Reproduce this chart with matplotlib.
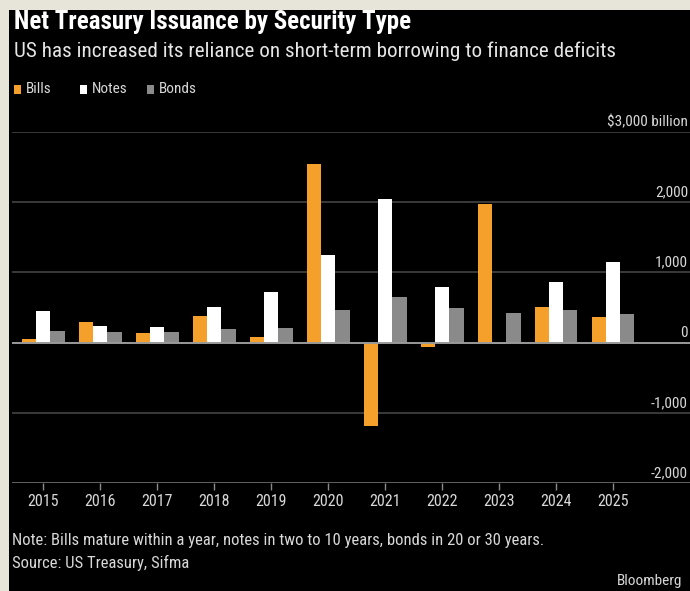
import matplotlib
matplotlib.use("Agg")
import matplotlib.pyplot as plt
import matplotlib.transforms as mtransforms
from matplotlib.patches import Rectangle
import numpy as np

years = [2015, 2016, 2017, 2018, 2019, 2020, 2021, 2022, 2023, 2024, 2025]
bills = [47, 300, 133, 380, 75, 2545, -1195, -60, 1975, 503, 360]
notes = [455, 240, 228, 512, 725, 1250, 2040, 790, -25, 870, 1155]
bonds = [170, 147, 157, 195, 205, 465, 655, 490, 418, 465, 408]

yticks = [-2000, -1000, 0, 1000, 2000, 3000]
ytick_labels = ["-2,000", "-1,000", "0", "1,000", "2,000", "$3,000 billion"]

orange = "#f5a02a"
white = "#ffffff"
grey = "#8a8a8a"
bg = "#000000"
border = "#e7e5d9"

plt.rcParams["font.family"] = ["Roboto Condensed", "Roboto", "DejaVu Sans"]

W, H = 690, 591
fig = plt.figure(figsize=(W / 100, H / 100), dpi=100, facecolor=border)

# black panel inside the beige frame
fig.patches.append(Rectangle((9 / W, 0), 1, 1 - 10 / H, transform=fig.transFigure,
                             facecolor=bg, edgecolor="none", zorder=-5))

ax = fig.add_axes([12 / W, (H - 483) / H, (W - 12) / W, 351 / H])
ax.set_facecolor("none")

x = np.array(years)
w = 0.25
ax.bar(x - w, bills, w, color=orange, zorder=3)
ax.bar(x, notes, w, color=white, zorder=3)
ax.bar(x + w, bonds, w, color=grey, zorder=3)

ax.set_xlim(2014.45, 2026.35)
ax.set_ylim(-2000, 3000)

for v in yticks:
    if v == 0:
        ax.axhline(v, color="#9a9a9a", lw=1.4, zorder=4)
    elif v == -2000:
        ax.axhline(v, color="#6a6a6a", lw=1.3, zorder=2)
    else:
        ax.axhline(v, color="#4a4a4a", lw=1.1, zorder=1)

for s in ax.spines.values():
    s.set_visible(False)

ax.set_yticks(yticks)
ax.set_yticklabels(ytick_labels)
ax.tick_params(axis="y", left=False, labelleft=False, right=False, labelright=True,
               pad=-5, labelsize=11, labelcolor="#d8d8d8")
off = mtransforms.ScaledTranslation(0, 3 / 100, fig.dpi_scale_trans)
for lab in ax.get_yticklabels():
    lab.set_horizontalalignment("right")
    lab.set_verticalalignment("bottom")
    lab.set_transform(lab.get_transform() + off)

ax.set_xticks(years)
ax.set_xticklabels([str(y) for y in years])
ax.tick_params(axis="x", length=5, width=1, color="#8a8a8a", pad=3,
               labelsize=11.5, labelcolor="#d8d8d8")

# titles
fig.text(14 / W, 1 - 22 / H, "Net Treasury Issuance by Security Type", color="white",
         fontsize=18, fontweight="bold", va="center", ha="left")
fig.text(14 / W, 1 - 51 / H,
         "US has increased its reliance on short-term borrowing to finance deficits",
         color="#e6e6e6", fontsize=15.2, va="center", ha="left")

# legend
lx = [14, 80, 147]
names = ["Bills", "Notes", "Bonds"]
cols = [orange, white, grey]
for px, name, c in zip(lx, names, cols):
    fig.patches.append(Rectangle((px / W, 1 - 94 / H), 7 / W, 9 / H, transform=fig.transFigure,
                                 facecolor=c, edgecolor="none"))
    fig.text((px + 12) / W, 1 - 89 / H, name, color="#d8d8d8", fontsize=11,
             va="center", ha="left")

fig.text(12 / W, 1 - 541 / H,
         "Note: Bills mature within a year, notes in two to 10 years, bonds in 20 or 30 years.",
         color="#d8d8d8", fontsize=12, va="center", ha="left")
fig.text(12 / W, 1 - 563 / H, "Source: US Treasury, Sifma", color="#d8d8d8",
         fontsize=12, va="center", ha="left")
fig.text(617 / W, 1 - 581 / H, "Bloomberg", color="#d8d8d8", fontsize=11,
         va="center", ha="left")

fig.savefig("out.png", dpi=100, facecolor=border)
